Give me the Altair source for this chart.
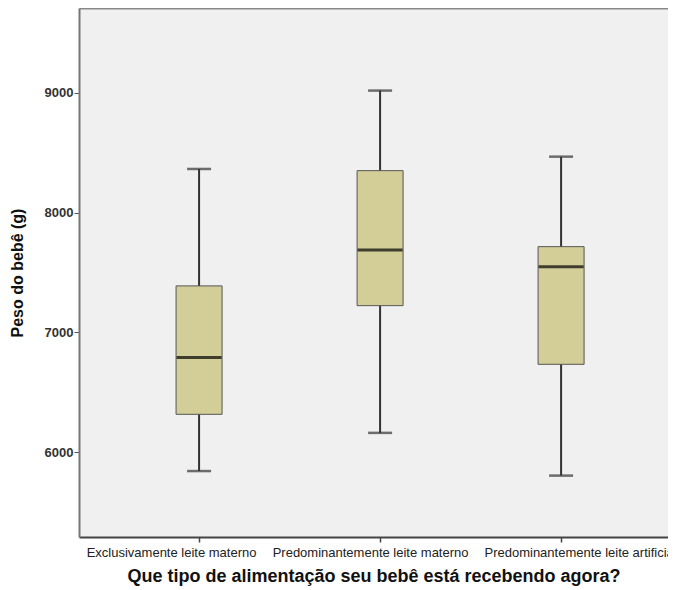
import altair as alt
import pandas as pd

categories = [
    "Exclusivamente leite materno",
    "Predominantemente leite materno",
    "Predominantemente leite artificial",
]
lower_whisker = [5841, 6160, 5803]
q1 = [6315, 7223, 6733]
median = [6790, 7688, 7549]
q3 = [7388, 8351, 7716]
upper_whisker = [8365, 9020, 8468]
y_ticks = [6000, 7000, 8000, 9000]

df = pd.DataFrame({
    "cat": categories,
    "lw": lower_whisker,
    "q1": q1,
    "med": median,
    "q3": q3,
    "uw": upper_whisker,
})

FONT = "Liberation Sans"
xscale = alt.Scale(type="point", padding=0.627, align=0.529)
yscale = alt.Scale(domain=[5290, 9710], nice=False, zero=False)

label_offset = {
    "condition": [
        {"test": "datum.value === 'Exclusivamente leite materno'", "value": -28},
        {"test": "datum.value === 'Predominantemente leite artificial'", "value": 19},
    ],
    "value": -10,
}

x_bottom = alt.X(
    "cat:N", sort=categories, scale=xscale,
    axis=alt.Axis(
        orient="bottom", labelAngle=0, labelFont=FONT, labelFontSize=13,
        labelColor="#222", labelPadding=4, labelLimit=0, tickSize=5,
        tickColor="#444", tickWidth=1.5, domainColor="#444", domainWidth=2,
        labelOffset=label_offset,
        title="Que tipo de alimentação seu bebê está recebendo agora?",
        titleFont=FONT, titleFontSize=18, titleFontWeight="bold",
        titleColor="#111", titlePadding=8,
    ),
)
x_top = alt.X(
    "cat:N", sort=categories, scale=xscale,
    axis=alt.Axis(orient="top", labels=False, ticks=False, title=None,
                  domainColor="#888", domainWidth=2),
)
x_none = alt.X("cat:N", sort=categories, scale=xscale, axis=None)

y_axis = alt.Axis(
    values=y_ticks, format="d", grid=False, labelFont=FONT, labelFontSize=13,
    labelFontWeight="bold", labelColor="#333", labelPadding=1, tickSize=5,
    tickColor="#555", domainColor="#777", domainWidth=2,
    title="Peso do bebê (g)", titleFont=FONT, titleFontSize=16,
    titleFontWeight="bold", titleColor="#111", titlePadding=19,
)


def yq(field):
    return alt.Y(f"{field}:Q", scale=yscale, axis=y_axis)


base = alt.Chart(df)

whiskers = base.mark_rule(color="#333", strokeWidth=2).encode(
    x=x_bottom, y=yq("lw"), y2="uw:Q"
)
boxes = base.mark_bar(size=46, color="#D3CE97", stroke="#555", strokeWidth=1).encode(
    x=x_top, y=yq("q1"), y2="q3:Q"
)
caps_low = base.mark_tick(size=24, thickness=2.5, color="#333").encode(
    x=x_none, y=yq("lw")
)
caps_high = base.mark_tick(size=24, thickness=2.5, color="#333").encode(
    x=x_none, y=yq("uw")
)
medians = base.mark_tick(size=45, thickness=3, color="#000").encode(
    x=x_none, y=yq("med")
)

chart = (
    alt.layer(whiskers, boxes, caps_low, caps_high, medians)
    .resolve_axis(x="independent")
    .properties(
        width=589, height=529,
        autosize=alt.AutoSizeParams(type="none"),
        padding={"left": 71, "top": 0, "right": 0, "bottom": 52},
        background="white",
    )
    .configure_view(fill="#F0F0F0", strokeWidth=0)
)

chart.save("out.html", embed_options={"renderer": "svg", "actions": False})
